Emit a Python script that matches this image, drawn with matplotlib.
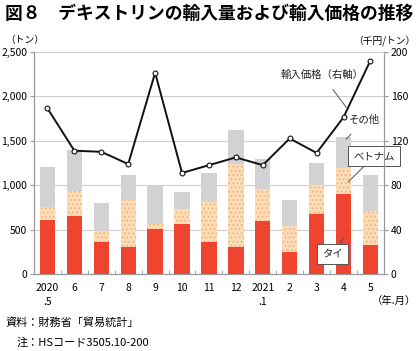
import numpy as np
import matplotlib as mpl
import matplotlib.pyplot as plt

mpl.rcParams["font.family"] = ["Noto Sans CJK JP", "DejaVu Sans"]
mpl.rcParams["hatch.linewidth"] = 0.8

# ------------------------------------------------------------
# Data
# ------------------------------------------------------------
months = ["2020\n.5", "6", "7", "8", "9", "10", "11", "12",
          "2021\n.1", "2", "3", "4", "5"]
thai = [610, 650, 360, 310, 510, 560, 360, 310, 600, 255, 680, 900, 330]
vietnam = [150, 280, 130, 520, 60, 170, 450, 930, 360, 285, 320, 290, 380]
other = [440, 470, 310, 290, 430, 190, 330, 380, 330, 290, 250, 350, 410]
price = [149, 111, 110, 99, 181, 91, 98, 105, 98, 122, 109, 141, 192]

left_ticks = [0, 500, 1000, 1500, 2000, 2500]
left_ticklabels = ["0", "500", "1,000", "1,500", "2,000", "2,500"]
right_ticks = [0, 40, 80, 120, 160, 200]

RED = "#EE4430"
ORANGE = "#FDDCB8"
ORANGE_DOT = "#F6B27A"
GRAY = "#D2D2D4"
AXIS = "#999999"

fig = plt.figure(figsize=(4.2, 3.51), dpi=100)
ax = fig.add_axes([0.081, 0.2185, 0.833, 0.6345])
ax2 = ax.twinx()

x = np.arange(len(months))
w = 0.57
thai_a = np.array(thai)
viet_a = np.array(vietnam)
oth_a = np.array(other)

ax.bar(x, thai_a, w, color=RED, zorder=2)
ax.bar(x, viet_a, w, bottom=thai_a, facecolor=ORANGE, edgecolor=ORANGE_DOT,
       hatch="....", linewidth=0, zorder=2)
ax.bar(x, oth_a, w, bottom=thai_a + viet_a, color=GRAY, zorder=2)

ax.set_ylim(0, 2500)
ax.set_xlim(-0.5, len(months) - 0.5)
ax.set_yticks(left_ticks)
ax.set_yticklabels(left_ticklabels)
ax.yaxis.grid(True, color="#cfcfcf", lw=0.8, zorder=0)
ax.set_axisbelow(True)

ax.set_xticks(x)
ax.set_xticklabels(months, linespacing=1.6)
ax.set_xticks(np.arange(-0.5, len(months), 1), minor=True)
ax.tick_params(axis="x", which="major", length=0, pad=6, labelsize=7.5)
ax.tick_params(axis="x", which="minor", length=3, color=AXIS, direction="in")
ax.tick_params(axis="y", length=3, color=AXIS, labelsize=7.5, pad=2)

ax2.plot(x, price, color="#111111", lw=1.4, marker="o", ms=3.5,
         mfc="white", mec="#111111", mew=0.8, zorder=5)
ax2.set_ylim(0, 200)
ax2.set_yticks(right_ticks)
ax2.tick_params(axis="y", length=3, color=AXIS, labelsize=7.5, pad=2)

for a in (ax, ax2):
    a.spines["top"].set_visible(False)
    for s in ("left", "right", "bottom"):
        a.spines[s].set_color(AXIS)
        a.spines[s].set_linewidth(0.8)

# annotations
ax2.annotate("輸入価格（右軸）", xy=(11.1, 150), xytext=(10.2, 179),
             fontsize=7.5, ha="center", va="center", color="#222222",
             arrowprops=dict(arrowstyle="-", color="#555555", lw=0.7,
                             shrinkA=6, shrinkB=0))
ax.annotate("その他", xy=(11.1, 1517), xytext=(11.77, 1730),
            fontsize=7.5, ha="center", va="center", color="#222222",
            arrowprops=dict(arrowstyle="-", color="#555555", lw=0.7,
                            shrinkA=6, shrinkB=0))
ax.annotate("ベトナム", xy=(11.17, 1035), xytext=(12.14, 1326),
            fontsize=7.5, ha="center", va="center", color="#222222",
            bbox=dict(boxstyle="square,pad=0.5", fc="white", ec="#555555", lw=0.7),
            arrowprops=dict(arrowstyle="-", color="#555555", lw=0.7,
                            shrinkA=0, shrinkB=0))
ax.annotate("タイ", xy=(11.0, 407), xytext=(10.58, 228),
            fontsize=7.5, ha="center", va="center", color="#222222",
            bbox=dict(boxstyle="square,pad=0.5", fc="white", ec="#555555", lw=0.7),
            arrowprops=dict(arrowstyle="-", color="#555555", lw=0.7,
                            shrinkA=0, shrinkB=0))

# texts around the chart
fig.text(0.012, 0.96, "図８　デキストリンの輸入量および輸入価格の推移",
         fontsize=12.8, fontweight="bold", ha="left", va="center")
fig.text(0.012, 0.885, "（トン）", fontsize=7, ha="left", va="center")
fig.text(0.99, 0.885, "（千円/トン）", fontsize=7, ha="right", va="center")
fig.text(0.99, 0.143, "（年.月）", fontsize=7.5, ha="right", va="center")
fig.text(0.012, 0.08, "資料：財務省「貿易統計」", fontsize=8, ha="left", va="center")
fig.text(0.04, 0.025, "注：HSコード3505.10-200", fontsize=8, ha="left", va="center")

fig.savefig("out.png", dpi=100)
